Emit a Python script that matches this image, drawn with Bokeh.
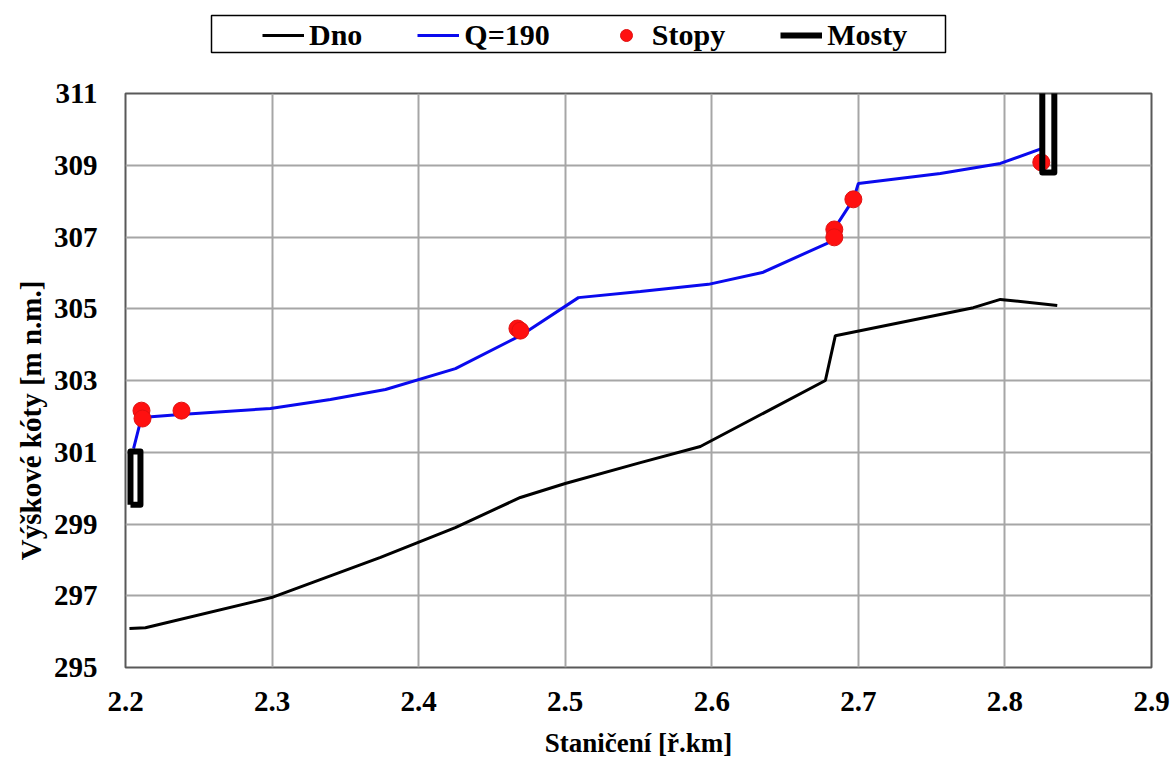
from bokeh.plotting import figure
from bokeh.models import Legend, LegendItem, FixedTicker, Range1d, BoxAnnotation
from bokeh.layouts import column
from bokeh.embed import file_html
from bokeh.resources import INLINE

# ---- data ----
dno_x = [2.2027, 2.2136, 2.2996, 2.374, 2.425, 2.4694, 2.5, 2.5513, 2.5922,
         2.6775, 2.6843, 2.7785, 2.7969, 2.8357]
dno_y = [296.09, 296.11, 296.95, 298.07, 298.9, 299.74, 300.13, 300.71, 301.16,
         303.0, 304.25, 305.03, 305.26, 305.09]

q_x = [2.2055, 2.2109, 2.2375, 2.2989, 2.3398, 2.3774, 2.4251, 2.4694, 2.509,
       2.5513, 2.5977, 2.6345, 2.6829, 2.6863, 2.6966, 2.7000, 2.7559, 2.7969, 2.8269]
q_y = [301.10, 301.97, 302.05, 302.22, 302.47, 302.75, 303.33, 304.25, 305.31,
       305.48, 305.68, 306.01, 306.90, 307.40, 308.05, 308.49, 308.77, 309.05, 309.49]

stopy_x = [2.2109, 2.2116, 2.2382, 2.4674, 2.4694, 2.6836, 2.6836, 2.6966, 2.8248]
stopy_y = [302.16, 301.94, 302.16, 304.45, 304.39, 307.21, 306.99, 308.05, 309.08]

most1_x = [2.2034, 2.2034, 2.2102, 2.2102, 2.2034]
most1_y = [299.54, 301.02, 301.02, 299.54, 299.54]
most2_x = [2.8255, 2.8255, 2.8337, 2.8337]
most2_y = [312.0, 308.8, 308.8, 312.0]

series_names = ["Dno", "Q=190", "Stopy", "Mosty"]
x_ticks = [2.2, 2.3, 2.4, 2.5, 2.6, 2.7, 2.8, 2.9]
y_ticks = [295, 297, 299, 301, 303, 305, 307, 309, 311]

FONT = "Liberation Serif"
DNO_STYLE = dict(line_color="black", line_width=3)
Q_STYLE = dict(line_color="#0a0aee", line_width=3)
ST_STYLE = dict(size=17, fill_color="#ff1010", line_color="#e01010", line_width=1)
M_STYLE = dict(line_color="black", line_width=6, line_join="round")

TOP_H = 70
W, H = 1174, 767
LEFT, RIGHT = 125, 23

# ---------------- main chart ----------------
p = figure(width=W, height=H - TOP_H, output_backend="svg",
           toolbar_location=None,
           x_range=Range1d(2.2, 2.9), y_range=Range1d(295, 311),
           min_border_left=LEFT, min_border_right=RIGHT, min_border_top=93 - TOP_H,
           min_border_bottom=100, background_fill_color="white",
           border_fill_color="white")

p.line(dno_x, dno_y, **DNO_STYLE)
p.line(q_x, q_y, **Q_STYLE)
p.scatter(stopy_x, stopy_y, **ST_STYLE)
p.multi_line([most1_x, most2_x], [most1_y, most2_y], **M_STYLE)

p.xaxis.ticker = FixedTicker(ticks=x_ticks)
p.yaxis.ticker = FixedTicker(ticks=y_ticks)

for ax in (p.xaxis[0], p.yaxis[0]):
    ax.axis_line_color = None
    ax.major_tick_line_color = None
    ax.minor_tick_line_color = None
    ax.major_tick_out = 0
    ax.major_tick_in = 0
    ax.minor_tick_out = 0
    ax.minor_tick_in = 0
    ax.major_label_text_font = FONT
    ax.major_label_text_font_style = "bold"
    ax.major_label_text_font_size = "29px"
    ax.major_label_text_color = "black"
    ax.axis_label_text_font = FONT
    ax.axis_label_text_font_style = "bold"
    ax.axis_label_text_color = "black"

p.xaxis.axis_label = "Staničení [ř.km]"
p.yaxis.axis_label = "Výškové kóty [m n.m.]" + "\u00a0" * 11
p.xaxis.axis_label_text_font_size = "27px"
p.yaxis.axis_label_text_font_size = "29px"
p.xaxis.major_label_standoff = 24
p.xaxis.axis_label_standoff = 14
p.yaxis.major_label_standoff = 28
p.yaxis.axis_label_standoff = 4

p.xgrid.grid_line_color = "#a6a6a6"
p.ygrid.grid_line_color = "#a6a6a6"
p.xgrid.grid_line_width = 2
p.ygrid.grid_line_width = 2
p.outline_line_color = "#595959"
p.outline_line_width = 2

# ---------------- legend strip on top ----------------
# frame of this strip lines up with the main frame; its data units are page pixels
t = figure(width=W, height=TOP_H, output_backend="svg", toolbar_location=None,
           x_range=Range1d(LEFT, W - RIGHT), y_range=Range1d(TOP_H, 0),
           x_axis_type=None, y_axis_type=None,
           min_border_left=LEFT, min_border_right=RIGHT,
           min_border_top=0, min_border_bottom=0,
           background_fill_color="white", border_fill_color="white")
t.grid.visible = False
t.outline_line_color = None

# proxies for the legend (their data lies far outside this strip)
l_dno = t.line(dno_x, dno_y, **DNO_STYLE)
l_q = t.line(q_x, q_y, **Q_STYLE)
l_st = t.scatter(stopy_x, stopy_y, **ST_STYLE)
l_m = t.multi_line([most1_x, most2_x], [most1_y, most2_y], **M_STYLE)

t.add_layout(BoxAnnotation(left=211, right=945, top=15, bottom=52,
                           fill_alpha=0, line_color="black", line_alpha=1,
                           line_width=1.5))

legend = Legend(items=[
    LegendItem(label=series_names[0], renderers=[l_dno]),
    LegendItem(label=series_names[1], renderers=[l_q]),
    LegendItem(label=series_names[2], renderers=[l_st]),
    LegendItem(label=series_names[3], renderers=[l_m]),
], orientation="horizontal", location=(262 - LEFT, TOP_H - 52),
    padding=0, margin=0, spacing=55, glyph_width=42, glyph_height=30,
    label_standoff=5, label_height=30,
    label_text_font=FONT, label_text_font_style="bold",
    label_text_font_size="30px", label_text_color="black",
    border_line_color=None, background_fill_alpha=0)
t.add_layout(legend, "center")

layout = column(t, p, spacing=0)
open("out.html", "w").write(file_html(layout, INLINE))
